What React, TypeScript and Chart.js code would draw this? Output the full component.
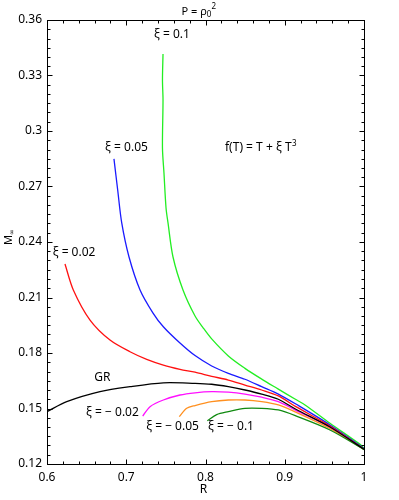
import React, { useEffect, useRef } from "react";
import { Chart, registerables } from "chart.js";

Chart.register(...registerables);

// ---- data (R, M∞) ----
const rXi01 = [0.7464, 0.7457, 0.7464, 0.7457, 0.7476, 0.7502, 0.7527, 0.759, 0.7716, 0.7868, 0.7972, 0.8078, 0.8288, 0.8498, 0.8709, 0.8919, 0.9129, 0.9256, 0.9571, 0.995, 1.0];
const mXi01 = [0.3416, 0.3276, 0.3168, 0.2908, 0.2773, 0.2584, 0.2503, 0.2319, 0.2141, 0.2, 0.1935, 0.1876, 0.1784, 0.1717, 0.1659, 0.1605, 0.1551, 0.1519, 0.142, 0.1306, 0.1286];

const rXi005 = [0.6845, 0.6892, 0.6943, 0.7035, 0.7174, 0.7338, 0.7468, 0.7678, 0.7868, 0.8078, 0.8288, 0.8498, 0.8709, 0.8919, 0.914, 0.9571, 1.0];
const mXi005 = [0.2849, 0.2681, 0.2503, 0.2319, 0.2141, 0.2016, 0.1942, 0.1854, 0.1786, 0.173, 0.169, 0.1658, 0.1618, 0.1578, 0.1524, 0.1411, 0.1283];

const rXi002 = [0.6227, 0.6332, 0.6543, 0.6795, 0.7047, 0.7258, 0.7468, 0.7678, 0.7868, 0.8078, 0.8288, 0.8498, 0.8709, 0.8919, 0.914, 0.9571, 1.0];
const mXi002 = [0.2281, 0.2141, 0.1978, 0.187, 0.1807, 0.1766, 0.1735, 0.1712, 0.1696, 0.1674, 0.1654, 0.1627, 0.16, 0.1568, 0.151, 0.1405, 0.128];

const rGR = [0.6, 0.6249, 0.6669, 0.7047, 0.7468, 0.7868, 0.8078, 0.8288, 0.8498, 0.8709, 0.8919, 0.914, 0.9571, 1.0];
const mGR = [0.1483, 0.1537, 0.1591, 0.1618, 0.1639, 0.1636, 0.1631, 0.1618, 0.16, 0.1578, 0.155, 0.1496, 0.14, 0.128];

const rXiM002 = [0.7208, 0.73, 0.7468, 0.7678, 0.7868, 0.8078, 0.8288, 0.8498, 0.8709, 0.8919, 0.914, 0.9571, 1.0];
const mXiM002 = [0.1459, 0.151, 0.1546, 0.1573, 0.1585, 0.1591, 0.1588, 0.1578, 0.1561, 0.1537, 0.149, 0.1398, 0.128];

const rXiM005 = [0.7669, 0.7763, 0.7868, 0.8078, 0.8288, 0.8498, 0.8709, 0.8919, 0.914, 0.9571, 1.0];
const mXiM005 = [0.1456, 0.1501, 0.1516, 0.1537, 0.1546, 0.1546, 0.1537, 0.1519, 0.148, 0.1392, 0.128];

const rXiM01 = [0.8023, 0.8141, 0.8288, 0.8498, 0.8709, 0.8919, 0.914, 0.9571, 1.0];
const mXiM01 = [0.1434, 0.1467, 0.1483, 0.1501, 0.1501, 0.1492, 0.146, 0.1384, 0.1278];

// ---- axes ----
const xTickLabels = ["0.6", "0.7", "0.8", "0.9", "1"];
const yTickLabels = ["0.12", "0.15", "0.18", "0.21", "0.24", "0.27", "0.3", "0.33", "0.36"];
const X_MIN = 0.6, X_MAX = 1.0, X_MINOR = 0.02, X_MAJOR = 0.1;
const Y_MIN = 0.12, Y_MAX = 0.36, Y_MINOR = 0.005, Y_MAJOR = 0.03;

// ---- annotations: [text, R, M] ----
const curveLabels: [string, number, number][] = [
  ["ξ = 0.1", 0.7577, 0.3519],
  ["ξ = 0.05", 0.7003, 0.2908],
  ["ξ = 0.02", 0.6341, 0.2341],
  ["GR", 0.670, 0.1665],
  ["ξ = − 0.02", 0.6826, 0.1476],
  ["ξ = − 0.05", 0.7584, 0.1400],
  ["ξ = − 0.1", 0.8322, 0.1400],
];

const FONT = '"Noto Sans", "DejaVu Sans", sans-serif';

const zip = (r: number[], m: number[]) => r.map((v, i) => ({ x: v, y: m[i] }));

function majorLabel(v: number, min: number, step: number, labels: string[]) {
  const k = (v - min) / step;
  const idx = Math.round(k);
  if (Math.abs(k - idx) < 1e-6 && idx >= 0 && idx < labels.length) return labels[idx];
  return "";
}

const decor = {
  id: "decor",
  afterDraw(chart: any) {
    const { ctx, chartArea: a, scales } = chart;
    const xs = scales.x, ys = scales.y;
    ctx.save();
    ctx.strokeStyle = "#000";
    ctx.lineWidth = 1;
    const L = Math.round(a.left) + 0.5, R = Math.round(a.right) + 0.5;
    const T = Math.round(a.top) + 0.5, B = Math.round(a.bottom) + 0.5;
    ctx.strokeRect(L, T, R - L, B - T);
    ctx.beginPath();
    xs.ticks.forEach((t: any) => {
      const px = Math.round(xs.getPixelForValue(t.value)) + 0.5;
      const len = majorLabel(t.value, X_MIN, X_MAJOR, xTickLabels) ? 5 : 3;
      ctx.moveTo(px, B); ctx.lineTo(px, B - len);
      ctx.moveTo(px, T); ctx.lineTo(px, T + len);
    });
    ys.ticks.forEach((t: any) => {
      const py = Math.round(ys.getPixelForValue(t.value)) + 0.5;
      const len = majorLabel(t.value, Y_MIN, Y_MAJOR, yTickLabels) ? 5 : 3;
      ctx.moveTo(L, py); ctx.lineTo(L + len, py);
      ctx.moveTo(R, py); ctx.lineTo(R - len, py);
    });
    ctx.stroke();

    ctx.fillStyle = "#000";
    ctx.font = `12px ${FONT}`;
    ctx.textAlign = "center";
    ctx.textBaseline = "middle";
    curveLabels.forEach(([txt, r, m]) => {
      ctx.fillText(txt, xs.getPixelForValue(r), ys.getPixelForValue(m));
    });

    // f(T) = T + ξ T^3
    ctx.textAlign = "left";
    ctx.textBaseline = "alphabetic";
    const fx = xs.getPixelForValue(0.8246);
    const fy = ys.getPixelForValue(0.2914) + 4;
    const ftxt = "f(T) = T + ξ T";
    ctx.font = `12px ${FONT}`;
    ctx.fillText(ftxt, fx, fy);
    const fw = ctx.measureText(ftxt).width;
    ctx.font = `8px ${FONT}`;
    ctx.fillText("3", fx + fw + 0.5, fy - 5);

    // title P = ρ0^2
    ctx.font = `11px ${FONT}`;
    const t1 = "P = ρ";
    const w1 = ctx.measureText(t1).width;
    ctx.font = `8px ${FONT}`;
    const wsub = ctx.measureText("0").width;
    const total = w1 + wsub + 5;
    const tx = 199 - total / 2;
    const ty = 15;
    ctx.font = `11px ${FONT}`;
    ctx.fillText(t1, tx, ty);
    ctx.font = `8px ${FONT}`;
    ctx.fillText("0", tx + w1, ty + 2);
    ctx.fillText("2", tx + w1 + wsub, ty - 6);

    // x title
    ctx.font = `12px ${FONT}`;
    ctx.textAlign = "center";
    ctx.fillText("R", (a.left + a.right) / 2 - 2, 493);

    // y title M∞ rotated
    ctx.translate(12, 245);
    ctx.rotate(-Math.PI / 2);
    ctx.textAlign = "left";
    ctx.font = `11px ${FONT}`;
    ctx.fillText("M", 0, 0);
    const mw = ctx.measureText("M").width;
    ctx.font = `7px ${FONT}`;
    ctx.fillText("∞", mw, 2);
    ctx.restore();
  },
};

export default function App() {
  const ref = useRef<HTMLCanvasElement>(null);
  useEffect(() => {
    if (!ref.current) return;
    const mk = (r: number[], m: number[], color: string) => ({
      data: zip(r, m),
      borderColor: color,
      backgroundColor: color,
      borderWidth: 1.3,
      pointRadius: 0,
      showLine: true,
      tension: 0.3,
      fill: false,
    });
    const chart = new Chart(ref.current, {
      type: "scatter",
      data: {
        datasets: [
          mk(rGR, mGR, "#000000"),
          mk(rXiM01, mXiM01, "#108a10"),
          mk(rXiM005, mXiM005, "#ff9020"),
          mk(rXiM002, mXiM002, "#ff10ff"),
          mk(rXi002, mXi002, "#ff1010"),
          mk(rXi005, mXi005, "#1a1aff"),
          mk(rXi01, mXi01, "#22ee22"),
        ] as any,
      },
      options: {
        animation: false,
        responsive: false,
        maintainAspectRatio: false,
        layout: { padding: { top: 20, right: 35, left: 0, bottom: 0 } },
        plugins: { legend: { display: false }, tooltip: { enabled: false }, title: { display: false } },
        scales: {
          x: {
            type: "linear",
            min: X_MIN,
            max: X_MAX,
            grid: { display: false, drawTicks: false },
            border: { display: false },
            afterFit: (s: any) => { s.height = 36; },
            ticks: {
              stepSize: X_MINOR,
              autoSkip: false,
              maxRotation: 0,
              padding: 6,
              color: "#000",
              font: { family: FONT, size: 12 },
              callback: (v: any) => majorLabel(Number(v), X_MIN, X_MAJOR, xTickLabels),
            },
          },
          y: {
            type: "linear",
            min: Y_MIN,
            max: Y_MAX,
            grid: { display: false, drawTicks: false },
            border: { display: false },
            afterFit: (s: any) => { s.width = 47; },
            ticks: {
              stepSize: Y_MINOR,
              autoSkip: false,
              padding: 5,
              color: "#000",
              font: { family: FONT, size: 12 },
              callback: (v: any) => majorLabel(Number(v), Y_MIN, Y_MAJOR, yTickLabels),
            },
          },
        },
      },
      plugins: [decor],
    });
    return () => chart.destroy();
  }, []);
  return (
    <div style={{ position: "fixed", left: 0, top: 0, width: 399, height: 500, background: "#fff" }}>
      <canvas ref={ref} width={399} height={500} style={{ width: 399, height: 500 }} />
    </div>
  );
}
